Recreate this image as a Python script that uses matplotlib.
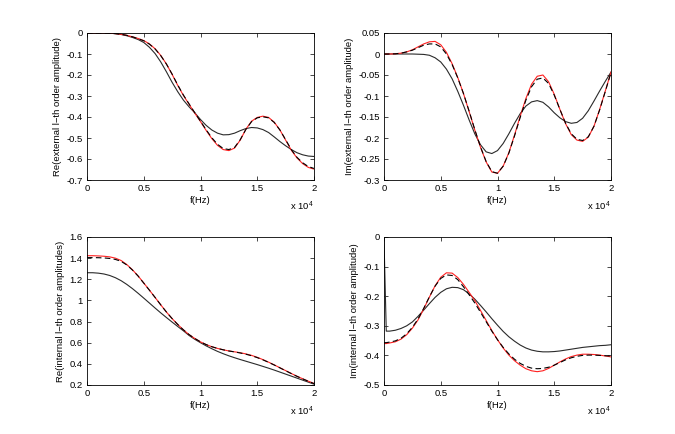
import numpy as np
import matplotlib
matplotlib.use("Agg")
import matplotlib.pyplot as plt

plt.rcParams['font.family'] = ['Liberation Sans', 'DejaVu Sans']
plt.rcParams['font.size'] = 6.8

# frequency grid (Hz)
f = np.arange(0, 20001, 500)
f_br = np.insert(f, 1, 200)

# top-left: Re(external)
re_ext_red = [0, 0, 0, 0, -0.001, -0.003, -0.006, -0.011, -0.018, -0.026, -0.036, -0.052, -0.075, -0.107,
              -0.148, -0.197, -0.250, -0.298, -0.340, -0.382, -0.422, -0.464, -0.503, -0.535, -0.555, -0.560,
              -0.548, -0.510, -0.458, -0.420, -0.402, -0.396, -0.402, -0.425, -0.462, -0.510, -0.558, -0.595,
              -0.622, -0.640, -0.648]
re_ext_dash = [0, 0, 0, 0, -0.001, -0.003, -0.006, -0.011, -0.018, -0.027, -0.037, -0.053, -0.076, -0.108,
               -0.148, -0.196, -0.248, -0.296, -0.338, -0.380, -0.420, -0.461, -0.499, -0.530, -0.550, -0.555,
               -0.545, -0.508, -0.459, -0.422, -0.404, -0.399, -0.404, -0.426, -0.462, -0.508, -0.555, -0.592,
               -0.618, -0.636, -0.645]
re_ext_blk = [0, 0, 0, 0, -0.001, -0.003, -0.007, -0.013, -0.021, -0.031, -0.045, -0.068, -0.098, -0.138,
              -0.185, -0.235, -0.280, -0.320, -0.352, -0.380, -0.412, -0.440, -0.462, -0.477, -0.485, -0.484,
              -0.477, -0.465, -0.455, -0.450, -0.452, -0.460, -0.474, -0.495, -0.517, -0.537, -0.555, -0.570,
              -0.580, -0.586, -0.588]

# top-right: Im(external)
im_ext_red = [0, 0, 0.0005, 0.002, 0.005, 0.010, 0.017, 0.024, 0.029, 0.030, 0.022, 0.004, -0.023, -0.056,
              -0.094, -0.137, -0.181, -0.222, -0.257, -0.281, -0.284, -0.267, -0.235, -0.193, -0.148, -0.106,
              -0.072, -0.053, -0.050, -0.066, -0.096, -0.132, -0.166, -0.192, -0.205, -0.208, -0.198, -0.172,
              -0.132, -0.088, -0.043]
im_ext_dash = [0, 0, 0.0005, 0.002, 0.005, 0.009, 0.015, 0.021, 0.024, 0.024, 0.017, 0.000, -0.025, -0.057,
               -0.094, -0.136, -0.180, -0.221, -0.256, -0.280, -0.284, -0.267, -0.236, -0.195, -0.151, -0.110,
               -0.078, -0.060, -0.057, -0.070, -0.098, -0.132, -0.165, -0.190, -0.203, -0.206, -0.197, -0.172,
               -0.133, -0.089, -0.044]
im_ext_blk = [0, 0, 0, 0, 0, 0, -0.0005, -0.001, -0.003, -0.009, -0.019, -0.036, -0.059, -0.089, -0.122,
              -0.157, -0.190, -0.216, -0.233, -0.237, -0.230, -0.213, -0.190, -0.165, -0.142, -0.124, -0.114,
              -0.111, -0.115, -0.126, -0.140, -0.152, -0.161, -0.165, -0.163, -0.153, -0.135, -0.112, -0.088,
              -0.065, -0.043]

# bottom-left: Re(internal)
re_int_red = [1.423, 1.423, 1.421, 1.418, 1.412, 1.400, 1.378, 1.340, 1.290, 1.232, 1.165, 1.097, 1.028,
              0.958, 0.890, 0.828, 0.772, 0.721, 0.676, 0.640, 0.608, 0.582, 0.562, 0.546, 0.533, 0.522,
              0.514, 0.505, 0.494, 0.480, 0.462, 0.440, 0.416, 0.390, 0.363, 0.336, 0.309, 0.283, 0.259,
              0.236, 0.215]
re_int_dash = [1.405, 1.405, 1.404, 1.402, 1.397, 1.388, 1.370, 1.336, 1.288, 1.231, 1.164, 1.097, 1.028,
               0.958, 0.890, 0.828, 0.772, 0.721, 0.676, 0.640, 0.608, 0.582, 0.562, 0.546, 0.533, 0.522,
               0.513, 0.503, 0.491, 0.477, 0.459, 0.438, 0.414, 0.389, 0.362, 0.335, 0.308, 0.282, 0.258,
               0.235, 0.213]
re_int_blk = [1.262, 1.262, 1.258, 1.250, 1.236, 1.215, 1.187, 1.152, 1.112, 1.068, 1.022, 0.975, 0.928,
              0.882, 0.838, 0.795, 0.753, 0.712, 0.668, 0.632, 0.600, 0.570, 0.543, 0.518, 0.496, 0.476,
              0.458, 0.441, 0.425, 0.409, 0.393, 0.376, 0.359, 0.341, 0.322, 0.303, 0.284, 0.265, 0.246,
              0.227, 0.208]

# bottom-right: Im(internal)
im_int_red = [-0.360, -0.360, -0.358, -0.354, -0.345, -0.330, -0.308, -0.280, -0.243, -0.203, -0.165, -0.136,
              -0.121, -0.122, -0.137, -0.160, -0.187, -0.215, -0.248, -0.282, -0.316, -0.347, -0.375, -0.399,
              -0.418, -0.433, -0.445, -0.452, -0.455, -0.452, -0.444, -0.433, -0.422, -0.412, -0.404, -0.399,
              -0.396, -0.396, -0.397, -0.399, -0.402, -0.405]
im_int_dash = [-0.357, -0.357, -0.355, -0.351, -0.342, -0.327, -0.305, -0.277, -0.241, -0.202, -0.166, -0.140,
               -0.128, -0.130, -0.144, -0.168, -0.195, -0.223, -0.254, -0.286, -0.318, -0.347, -0.373, -0.395,
               -0.413, -0.427, -0.437, -0.443, -0.445, -0.444, -0.440, -0.433, -0.424, -0.415, -0.408, -0.403,
               -0.400, -0.399, -0.399, -0.400, -0.401, -0.402]
im_int_blk = [-0.010, -0.318, -0.318, -0.315, -0.309, -0.300, -0.287, -0.268, -0.247, -0.225, -0.204, -0.187,
              -0.175, -0.170, -0.171, -0.178, -0.192, -0.210, -0.231, -0.253, -0.276, -0.298, -0.319, -0.337,
              -0.352, -0.365, -0.375, -0.382, -0.386, -0.388, -0.388, -0.387, -0.385, -0.382, -0.379, -0.376,
              -0.373, -0.371, -0.369, -0.367, -0.366, -0.364]

ylabels = ['Re(external l\u2212th order amplitude)', 'Im(external l\u2212th order amplitude)',
           'Re(internal l\u2212th order amplitudes)', 'Im(internal l\u2212th order amplitude)']
ylims = [(-0.7, 0), (-0.3, 0.05), (0.2, 1.6), (-0.5, 0)]
yticks = [np.round(np.arange(-0.7, 0.001, 0.1), 2), np.round(np.arange(-0.3, 0.051, 0.05), 2),
          np.round(np.arange(0.2, 1.601, 0.2), 1), np.round(np.arange(-0.5, 0.001, 0.1), 1)]
xs = [f, f, f, f_br]
series = [(re_ext_red, re_ext_dash, re_ext_blk), (im_ext_red, im_ext_dash, im_ext_blk),
          (re_int_red, re_int_dash, re_int_blk), (im_int_red, im_int_dash, im_int_blk)]

W, H = 675, 434
fig = plt.figure(figsize=(W / 100, H / 100), dpi=100)
rects = [(87, 33, 227, 147), (384, 33, 227, 147), (87, 237, 227, 148), (384, 237, 227, 148)]

for k in range(4):
    l, t, w, h = rects[k]
    ax = fig.add_axes([l / W, 1 - (t + h) / H, w / W, h / H])
    red, dash, blk = series[k]
    x = xs[k]
    ax.plot(x, blk, color='#2a2a2a', lw=0.8)
    ax.plot(x, red, color='#ff2020', lw=0.8)
    ax.plot(x, dash, color='black', lw=0.8, ls=(0, (5, 3)))
    ax.set_xlim(0, 20000)
    ax.set_ylim(*ylims[k])
    ax.set_xticks([0, 5000, 10000, 15000, 20000])
    ax.set_xticklabels(['0', '0.5', '1', '1.5', '2'])
    ax.set_yticks(yticks[k])
    ax.set_yticklabels(['%g' % v if v != 0 else '0' for v in yticks[k]])
    ax.tick_params(direction='in', length=3, width=0.5, top=True, right=True, pad=3)
    for s in ax.spines.values():
        s.set_linewidth(0.6)
    ax.set_xlabel('f(Hz)', labelpad=2)
    ax.set_ylabel(ylabels[k], labelpad=3)
    ax.text(1.0, -0.18, r'x 10$^{\mathregular{4}}$', transform=ax.transAxes, ha='right', va='center')

fig.savefig('out.png', dpi=100)
